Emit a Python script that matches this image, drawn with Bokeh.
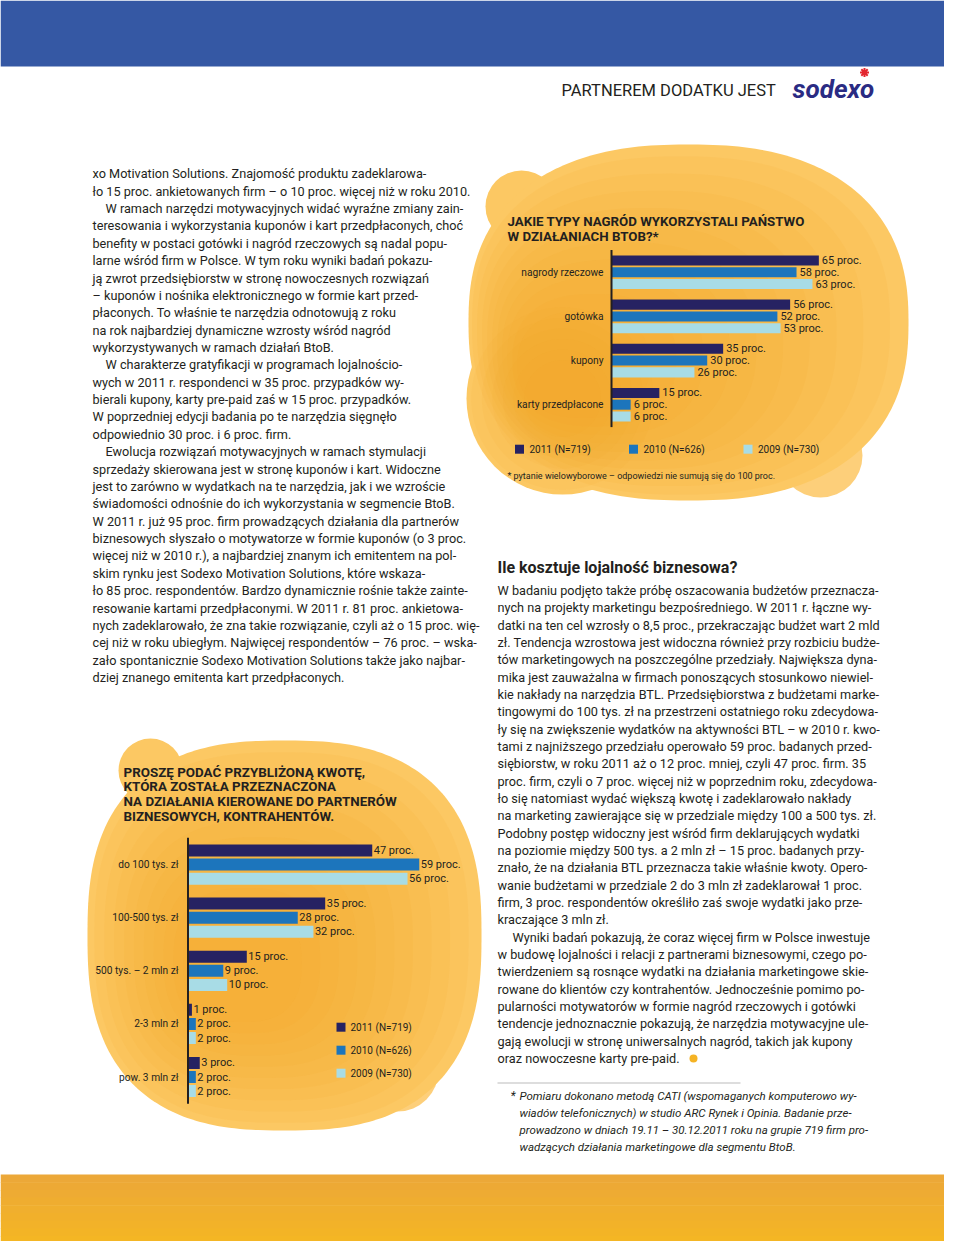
import numpy as np
from bokeh.plotting import figure
from bokeh.models import Range1d, ColumnDataSource
from bokeh.core.properties import value
from bokeh.embed import file_html
from bokeh.resources import INLINE

# ---------------- data ----------------
types_categories = ["nagrody rzeczowe", "gotówka", "kupony", "karty przedpłacone"]
types_2011 = [65, 56, 35, 15]
types_2010 = [58, 52, 30, 6]
types_2009 = [63, 53, 26, 6]

budget_categories = ["do 100 tys. zł", "100-500 tys. zł", "500 tys. – 2 mln zł", "2-3 mln zł", "pow. 3 mln zł"]
budget_2011 = [47, 35, 15, 1, 3]
budget_2010 = [59, 28, 9, 2, 2]
budget_2009 = [56, 32, 10, 2, 2]

series_names = ["2011 (N=719)", "2010 (N=626)", "2009 (N=730)"]
value_suffix = " proc."

title_types = ["JAKIE TYPY NAGRÓD WYKORZYSTALI PAŃSTWO", "W DZIAŁANIACH BTOB?*"]
note_types = "* pytanie wielowyborowe – odpowiedzi nie sumują się do 100 proc."
title_budget = ["PROSZĘ PODAĆ PRZYBLIŻONĄ KWOTĘ,", "KTÓRA ZOSTAŁA PRZEZNACZONA",
                "NA DZIAŁANIA KIEROWANE DO PARTNERÓW", "BIZNESOWYCH, KONTRAHENTÓW."]

header_text = "PARTNEREM DODATKU JEST"
logo_text = "sodexo"

left_lines = [
    "xo Motivation Solutions. Znajomość produktu zadeklarowa-",
    "ło 15 proc. ankietowanych firm – o 10 proc. więcej niż w roku 2010.",
    "W ramach narzędzi motywacyjnych widać wyraźne zmiany zain-",
    "teresowania i wykorzystania kuponów i kart przedpłaconych, choć",
    "benefity w postaci gotówki i nagród rzeczowych są nadal popu-",
    "larne wśród firm w Polsce. W tym roku wyniki badań pokazu-",
    "ją zwrot przedsiębiorstw w stronę nowoczesnych rozwiązań",
    "– kuponów i nośnika elektronicznego w formie kart przed-",
    "płaconych. To właśnie te narzędzia odnotowują z roku",
    "na rok najbardziej dynamiczne wzrosty wśród nagród",
    "wykorzystywanych w ramach działań BtoB.",
    "W charakterze gratyfikacji w programach lojalnościo-",
    "wych w 2011 r. respondenci w 35 proc. przypadków wy-",
    "bierali kupony, karty pre-paid zaś w 15 proc. przypadków.",
    "W poprzedniej edycji badania po te narzędzia sięgnęło",
    "odpowiednio 30 proc. i 6 proc. firm.",
    "Ewolucja rozwiązań motywacyjnych w ramach stymulacji",
    "sprzedaży skierowana jest w stronę kuponów i kart. Widoczne",
    "jest to zarówno w wydatkach na te narzędzia, jak i we wzroście",
    "świadomości odnośnie do ich wykorzystania w segmencie BtoB.",
    "W 2011 r. już 95 proc. firm prowadzących działania dla partnerów",
    "biznesowych słyszało o motywatorze w formie kuponów (o 3 proc.",
    "więcej niż w 2010 r.), a najbardziej znanym ich emitentem na pol-",
    "skim rynku jest Sodexo Motivation Solutions, które wskaza-",
    "ło 85 proc. respondentów. Bardzo dynamicznie rośnie także zainte-",
    "resowanie kartami przedpłaconymi. W 2011 r. 81 proc. ankietowa-",
    "nych zadeklarowało, że zna takie rozwiązanie, czyli aż o 15 proc. wię-",
    "cej niż w roku ubiegłym. Najwięcej respondentów – 76 proc. – wska-",
    "zało spontanicznie Sodexo Motivation Solutions także jako najbar-",
    "dziej znanego emitenta kart przedpłaconych.",
]
left_indent = [2, 11, 16]

right_heading = "Ile kosztuje lojalność biznesowa?"
right_lines = [
    "W badaniu podjęto także próbę oszacowania budżetów przeznacza-",
    "nych na projekty marketingu bezpośredniego. W 2011 r. łączne wy-",
    "datki na ten cel wzrosły o 8,5 proc., przekraczając budżet wart 2 mld",
    "zł. Tendencja wzrostowa jest widoczna również przy rozbiciu budże-",
    "tów marketingowych na poszczególne przedziały. Największa dyna-",
    "mika jest zauważalna w firmach ponoszących stosunkowo niewiel-",
    "kie nakłady na narzędzia BTL. Przedsiębiorstwa z budżetami marke-",
    "tingowymi do 100 tys. zł na przestrzeni ostatniego roku zdecydowa-",
    "ły się na zwiększenie wydatków na aktywności BTL – w 2010 r. kwo-",
    "tami z najniższego przedziału operowało 59 proc. badanych przed-",
    "siębiorstw, w roku 2011 aż o 12 proc. mniej, czyli 47 proc. firm. 35",
    "proc. firm, czyli o 7 proc. więcej niż w poprzednim roku, zdecydowa-",
    "ło się natomiast wydać większą kwotę i zadeklarowało nakłady",
    "na marketing zawierające się w przedziale między 100 a 500 tys. zł.",
    "Podobny postęp widoczny jest wśród firm deklarujących wydatki",
    "na poziomie między 500  tys. a 2 mln zł – 15 proc. badanych przy-",
    "znało, że na działania BTL przeznacza takie właśnie kwoty. Opero-",
    "wanie budżetami w przedziale 2 do 3 mln zł zadeklarował 1 proc.",
    "firm, 3 proc. respondentów określiło zaś swoje wydatki jako prze-",
    "kraczające 3 mln zł.",
    "Wyniki badań pokazują, że coraz więcej firm w Polsce inwestuje",
    "w budowę lojalności i relacji z partnerami biznesowymi, czego po-",
    "twierdzeniem są rosnące wydatki na działania marketingowe skie-",
    "rowane do klientów czy kontrahentów. Jednocześnie pomimo po-",
    "pularności motywatorów w formie nagród rzeczowych i gotówki",
    "tendencje jednoznacznie pokazują, że narzędzia motywacyjne ule-",
    "gają ewolucji w stronę uniwersalnych nagród, takich jak kupony",
    "oraz nowoczesne karty pre-paid.",
]
right_indent = [20]

footnote_lines = [
    "Pomiaru dokonano metodą CATI (wspomaganych komputerowo wy-",
    "wiadów telefonicznych) w studio ARC Rynek i Opinia. Badanie prze-",
    "prowadzono w dniach 19.11 – 30.12.2011 roku na grupie 719 firm pro-",
    "wadzących działania marketingowe dla segmentu BtoB.",
]

# ---------------- styling ----------------
FONT = value("Roboto")
INK = "#231F20"
SERIES_COLORS = ["#262262", "#1C75BC", "#A8DCE6"]
W, H = 944, 1241

p = figure(width=W, height=H, x_range=Range1d(0, W), y_range=Range1d(H, 0),
           output_backend="svg", toolbar_location=None, x_axis_type=None, y_axis_type=None,
           min_border=0, outline_line_color=None)
p.grid.visible = False
p.background_fill_color = "white"
p.border_fill_color = "white"

BASE = "#FCC863"
DEEP = "#F5A623"
LIGHT = "#FDCF7A"


def superellipse(cx, cy, a, b, n, k=260):
    t = np.linspace(0, 2 * np.pi, k, endpoint=False)
    c, s = np.cos(t), np.sin(t)
    return (cx + a * np.sign(c) * np.abs(c) ** (2 / n),
            cy + b * np.sign(s) * np.abs(s) ** (2 / n))


def shade(cx, cy, a, b, n, shift, fmin=0.30, steps=10, alpha=0.10):
    for f in np.linspace(0.95, fmin, steps):
        xi, yi = superellipse(cx + shift[0] * (1 - f), cy + shift[1] * (1 - f), a * f, b * f, n)
        p.patch(xi, yi, fill_color=DEEP, fill_alpha=alpha, line_color=None)


# header band
p.quad(left=0, right=957, top=0, bottom=66, fill_color="#3558A4", line_color=None)
p.text(x=[561], y=[90], text=[header_text], text_font=FONT, text_font_size="16.5px",
       text_color=INK, text_baseline="middle")
p.text(x=[792], y=[88], text=[logo_text], text_font=FONT, text_font_size="26px",
       text_font_style="bold italic", text_color="#2A2B83", text_baseline="middle")
p.scatter(x=[864], y=[72], marker="asterisk", size=9, line_color="#E3262F", line_width=2)

# bottom band (gradient strips)
c0 = np.array([0xEC, 0xA8, 0x38]); c1 = np.array([0xF6, 0xB8, 0x22])
nstrip = 10
for k in range(nstrip):
    col = c0 + (c1 - c0) * k / (nstrip - 1)
    hexc = "#%02x%02x%02x" % tuple(int(v) for v in col)
    p.quad(left=0, right=960, top=1174 + k * 7.7, bottom=1174 + (k + 1) * 7.7 + 0.5,
           fill_color=hexc, line_color=None)

# ---------------- blobs ----------------
# top-right
p.circle(x=[820], y=[455], radius=42, fill_color=LIGHT, line_color=None)
p.circle(x=[521], y=[206], radius=36, fill_color=BASE, line_color=None)
p.circle(x=[562], y=[398], radius=96, fill_color=BASE, line_color=None)
x, y = superellipse(688, 322, 220, 178, 2.4)
p.patch(x, y, fill_color=BASE, line_color=None)
shade(688, 322, 220, 178, 2.4, (-150, 60))
shade(562, 398, 96, 96, 2.0, (0, 0), fmin=0.4, steps=6, alpha=0.08)
# bottom-left
p.circle(x=[397], y=[1070], radius=41, fill_color=LIGHT, line_color=None)
p.circle(x=[150], y=[770], radius=32, fill_color=BASE, line_color=None)
x, y = superellipse(284, 935, 197, 195, 2.6)
p.patch(x, y, fill_color=BASE, line_color=None)
shade(284, 935, 197, 195, 2.6, (-60, 40))


# ---------------- body text ----------------
def column(lines, indent, x0, y0, step, ind, size="12.7px", style="normal"):
    xs = [x0 + (ind if i in indent else 0) for i in range(len(lines))]
    ys = [y0 + step * i for i in range(len(lines))]
    src = ColumnDataSource(dict(x=xs, y=ys, t=lines))
    p.text(x="x", y="y", text="t", source=src, text_font=FONT, text_font_size=size,
           text_font_style=style, text_color=INK, text_baseline="middle")


column(left_lines, left_indent, 92, 173.3, 17.37, 13)
p.text(x=[497], y=[566.5], text=[right_heading], text_font=FONT, text_font_size="16px",
       text_font_style="bold", text_color=INK, text_baseline="middle")
column(right_lines, right_indent, 497, 590, 17.33, 15)
p.circle(x=[693], y=[590 + 17.33 * 27], radius=4, fill_color="#F5B324", line_color=None)
p.line(x=[497, 740], y=[1082.5, 1082.5], line_color="#BBBBBB", line_width=1)
p.text(x=[510], y=[1095], text=["*"], text_font=FONT, text_font_size="12px",
       text_font_style="italic", text_color=INK, text_baseline="middle")
column(footnote_lines, [], 519, 1095, 17.2, 0, size="11.5px", style="italic")


# ---------------- charts ----------------
def bar_chart(name, cats, series, x0, kx, y0, ky, gstep, bar_h, lab_off, cat_gap, fs, cfs):
    p.extra_x_ranges[name + "x"] = Range1d((0 - x0) / kx, (W - x0) / kx)
    p.extra_y_ranges[name + "y"] = Range1d((H - y0) / ky, (0 - y0) / ky)
    kw = dict(x_range_name=name + "x", y_range_name=name + "y")
    ymax = 0
    for j, vals in enumerate(series):
        ys = [i * gstep + j for i in range(len(cats))]
        ymax = max(ymax, max(ys))
        src = ColumnDataSource(dict(y=ys, v=vals, lab=[f"{v}{value_suffix}" for v in vals]))
        p.hbar(y="y", left=0, right="v", height=bar_h, source=src,
               fill_color=SERIES_COLORS[j], line_color=None, **kw)
        p.text(x="v", y="y", text="lab", source=src, x_offset=lab_off, text_font=FONT,
               text_font_size=fs, text_color=INK, text_baseline="middle", **kw)
    p.line(x=[0, 0], y=[-0.9, ymax + 0.9], line_color=INK, line_width=2, **kw)
    csrc = ColumnDataSource(dict(y=[i * gstep + 1 for i in range(len(cats))], t=cats))
    p.text(x=0, y="y", text="t", source=csrc, x_offset=-cat_gap, text_align="right",
           text_font=FONT, text_font_size=cfs, text_color=INK, text_baseline="middle", **kw)


bar_chart("types", types_categories, [types_2011, types_2010, types_2009],
          611.0, 3.19, 260.0, 11.8, 3.74, 0.85, 3, 8, "11px", "10.2px")
bar_chart("budget", budget_categories, [budget_2011, budget_2010, budget_2009],
          187.5, 3.92, 850.0, 14.1, 3.766, 0.85, 1.5, 9.5, "11px", "10.2px")

# titles
src = ColumnDataSource(dict(x=[507] * 2, y=[220.5, 235.5], t=title_types))
p.text(x="x", y="y", text="t", source=src, text_font=FONT, text_font_size="13.3px",
       text_font_style="bold", text_color=INK, text_baseline="middle")
src = ColumnDataSource(dict(x=[123] * 4, y=[771.5 + 14.9 * i for i in range(4)], t=title_budget))
p.text(x="x", y="y", text="t", source=src, text_font=FONT, text_font_size="13.4px",
       text_font_style="bold", text_color=INK, text_baseline="middle")

# legends
lx = [519, 633, 747.5]
p.scatter(x=lx, y=[448.7] * 3, marker="square", size=9, fill_color=SERIES_COLORS, line_color=None)
p.text(x=[v + 10 for v in lx], y=[448.7] * 3, text=series_names, text_font=FONT,
       text_font_size="10px", text_color=INK, text_baseline="middle")
p.text(x=[507], y=[475], text=[note_types], text_font=FONT, text_font_size="9px",
       text_color=INK, text_baseline="middle")
ly = [1026.7 + 23 * j for j in range(3)]
p.scatter(x=[340.5] * 3, y=ly, marker="square", size=9, fill_color=SERIES_COLORS, line_color=None)
p.text(x=[350] * 3, y=ly, text=series_names, text_font=FONT, text_font_size="10px",
       text_color=INK, text_baseline="middle")

open("out.html", "w").write(file_html(p, INLINE))
